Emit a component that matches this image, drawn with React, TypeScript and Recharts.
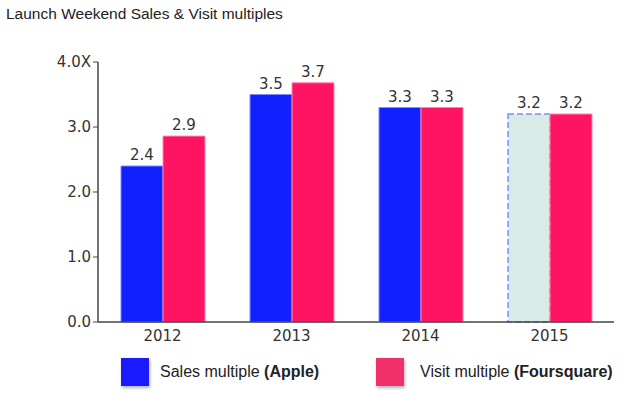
import React from 'react'
import { BarChart, Bar, XAxis, YAxis, Cell, LabelList } from 'recharts'

const years = ['2012', '2013', '2014', '2015']
const salesApple = [2.4, 3.5, 3.3, 3.2]
const visitFoursquare = [2.86, 3.68, 3.3, 3.2]
const yTicks = [0, 1, 2, 3, 4]

const data = years.map((year, i) => ({
  year,
  sales: salesApple[i],
  visits: visitFoursquare[i],
}))

const BLUE = '#1020ff'
const PINK = '#ff1464'
const NUM_FONT = '"DejaVu Sans", Verdana, sans-serif'
const TEXT_FONT = '"Liberation Sans", Arial, sans-serif'

const yFormat = (v: number) => (v === 4 ? '4.0X' : v.toFixed(1))
const labelFormat = (v: any) => Number(v).toFixed(1)

const LegendBox = () => (
  <div style={{ position: 'absolute', left: 0, top: 358, width: 640, height: 36, fontFamily: TEXT_FONT, fontSize: 16, color: '#222' }}>
    <div style={{ position: 'absolute', left: 121, top: 0, width: 28, height: 28, background: '#1a1aff', boxShadow: '1px 2px 3px rgba(0,0,0,0.3)' }} />
    <div style={{ position: 'absolute', left: 160, top: 5, whiteSpace: 'nowrap' }}>
      Sales multiple <b>(Apple)</b>
    </div>
    <div style={{ position: 'absolute', left: 376, top: 0, width: 28, height: 28, background: '#f0306a', boxShadow: '1px 2px 3px rgba(0,0,0,0.3)' }} />
    <div style={{ position: 'absolute', left: 420, top: 5, whiteSpace: 'nowrap' }}>
      Visit multiple <b>(Foursquare)</b>
    </div>
  </div>
)

export default function App() {
  return (
    <div style={{ position: 'absolute', left: 0, top: 0, width: 640, height: 396, background: '#fff' }}>
      <div style={{ position: 'absolute', left: 6, top: 5, fontFamily: TEXT_FONT, fontSize: 15.5, color: '#222', whiteSpace: 'nowrap' }}>
        Launch Weekend Sales &amp; Visit multiples
      </div>
      <BarChart
        width={640}
        height={396}
        data={data}
        margin={{ top: 62, right: 26, bottom: 74 - 24, left: 0 }}
        barGap={0}
        barSize={42}
      >
        <XAxis
          dataKey="year"
          height={24}
          tickLine={false}
          axisLine={{ stroke: '#444', strokeWidth: 1.5 }}
          tickSize={4}
          tickMargin={4}
          tick={{ fontFamily: NUM_FONT, fontSize: 15, fill: '#333' }}
        />
        <YAxis
          width={98}
          domain={[0, 4]}
          ticks={yTicks}
          tickFormatter={yFormat}
          axisLine={{ stroke: '#444', strokeWidth: 1.5 }}
          tickLine={{ stroke: '#444' }}
          tickSize={5}
          tickMargin={2}
          tick={{ fontFamily: NUM_FONT, fontSize: 15, fill: '#333' }}
        />
        <Bar dataKey="sales" fill={BLUE} stroke="#7f8cff" strokeWidth={1} isAnimationActive={false}>
          {data.map((d, i) =>
            i === data.length - 1 ? (
              <Cell key={d.year} fill="#d8ebe6" stroke="#7e8fff" strokeWidth={1.5} strokeDasharray="6 3" />
            ) : (
              <Cell key={d.year} fill={BLUE} stroke="#7f8cff" />
            )
          )}
          <LabelList dataKey="sales" position="top" offset={6} formatter={labelFormat} style={{ fontFamily: NUM_FONT, fontSize: 15, fill: '#333' }} />
        </Bar>
        <Bar dataKey="visits" fill={PINK} stroke="#ff86ad" strokeWidth={1} isAnimationActive={false}>
          <LabelList dataKey="visits" position="top" offset={6} formatter={labelFormat} style={{ fontFamily: NUM_FONT, fontSize: 15, fill: '#333' }} />
        </Bar>
      </BarChart>
      <LegendBox />
    </div>
  )
}
